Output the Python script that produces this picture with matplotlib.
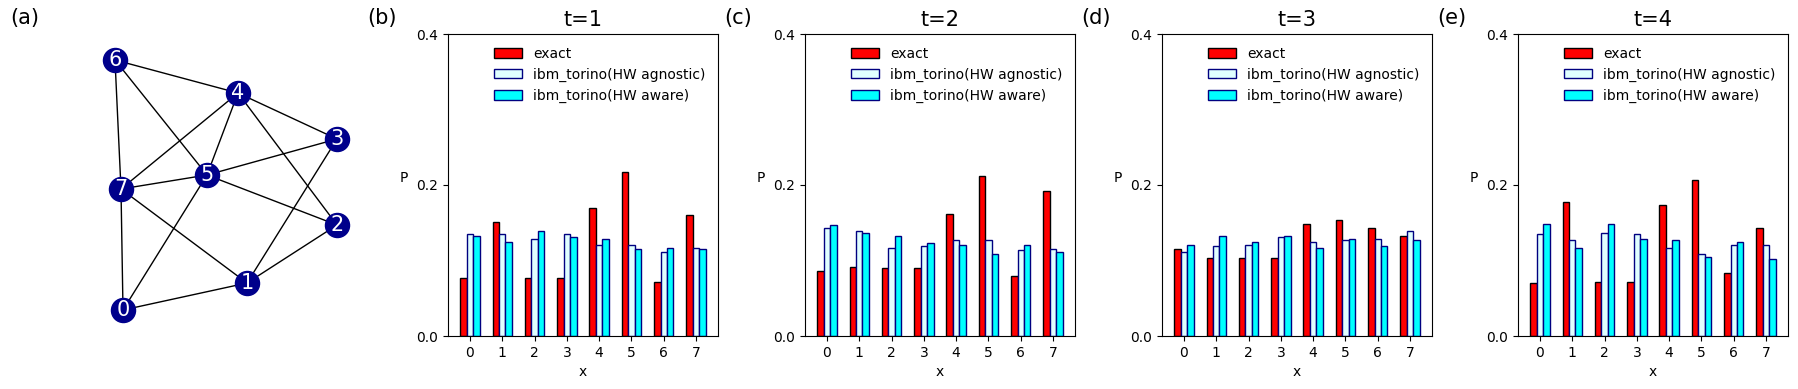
import numpy as np
import matplotlib
matplotlib.use("Agg")
import matplotlib.pyplot as plt

# graph in panel (a)
node_x = [123, 247, 337, 337, 238, 207, 115, 121]
node_y = [310, 283, 225, 139, 93, 175, 60, 189]
edges = [(6, 4), (6, 5), (6, 7), (4, 3), (4, 7), (4, 5), (4, 2), (3, 5),
         (3, 1), (5, 7), (5, 2), (5, 0), (7, 1), (7, 0), (2, 1), (1, 0)]

states = [0, 1, 2, 3, 4, 5, 6, 7]
times = [1, 2, 3, 4]
panel_tags = ["(b)", "(c)", "(d)", "(e)"]

exact = [
    [0.077, 0.151, 0.077, 0.077, 0.170, 0.217, 0.071, 0.160],
    [0.086, 0.092, 0.090, 0.090, 0.161, 0.212, 0.079, 0.192],
    [0.115, 0.103, 0.103, 0.103, 0.148, 0.153, 0.143, 0.132],
    [0.070, 0.177, 0.072, 0.072, 0.174, 0.206, 0.083, 0.143],
]
hw_agnostic = [
    [0.135, 0.135, 0.128, 0.135, 0.120, 0.121, 0.111, 0.116],
    [0.143, 0.139, 0.116, 0.119, 0.127, 0.127, 0.114, 0.115],
    [0.111, 0.119, 0.120, 0.131, 0.125, 0.127, 0.128, 0.139],
    [0.135, 0.127, 0.136, 0.135, 0.116, 0.108, 0.120, 0.121],
]
hw_aware = [
    [0.133, 0.124, 0.139, 0.131, 0.128, 0.115, 0.116, 0.115],
    [0.147, 0.136, 0.133, 0.123, 0.121, 0.108, 0.120, 0.111],
    [0.121, 0.132, 0.124, 0.133, 0.116, 0.128, 0.119, 0.127],
    [0.149, 0.117, 0.148, 0.128, 0.127, 0.104, 0.125, 0.102],
]

W, H = 1798, 389
fig = plt.figure(figsize=(W / 100, H / 100), dpi=100)

# panel (a): the graph, drawn in pixel coordinates
gax = fig.add_axes([0, 0, 0.21, 1])
gax.set_xlim(0, 0.21 * W)
gax.set_ylim(H, 0)
gax.axis("off")
for a, b in edges:
    gax.plot([node_x[a], node_x[b]], [node_y[a], node_y[b]], color="black", lw=1, zorder=1)
gax.scatter(node_x, node_y, s=300, color="darkblue", zorder=2)
for i in range(len(node_x)):
    gax.text(node_x[i], node_y[i], str(i), color="white", fontsize=15,
             ha="center", va="center", zorder=3)
fig.text(10 / W, 1 - 18 / H, "(a)", fontsize=15, va="center", ha="left")

lefts = [448, 805, 1162, 1518]
width = 0.2
x = np.array(states)
for k in range(4):
    ax = fig.add_axes([lefts[k] / W, 1 - 336 / H, 270 / W, 302 / H])
    ax.bar(x - width, exact[k], width, color="red", edgecolor="black", label="exact")
    ax.bar(x, hw_agnostic[k], width, color="lightcyan", edgecolor="navy",
           label="ibm_torino(HW agnostic)")
    ax.bar(x + width, hw_aware[k], width, color="cyan", edgecolor="navy",
           label="ibm_torino(HW aware)")
    ax.set_ylim(0, 0.4)
    ax.set_yticks([0.0, 0.2, 0.4])
    ax.set_xticks(states)
    ax.set_xlabel("x")
    ax.set_ylabel("P", rotation=0, labelpad=9)
    ax.set_title(f"t={times[k]}", fontsize=15)
    ax.legend(loc="upper right", frameon=False, fontsize=10)
    ax.text(-0.3, 1 + 16 / 302, panel_tags[k], transform=ax.transAxes,
            fontsize=15, va="center", ha="left")

fig.savefig("out.png", dpi=100)
